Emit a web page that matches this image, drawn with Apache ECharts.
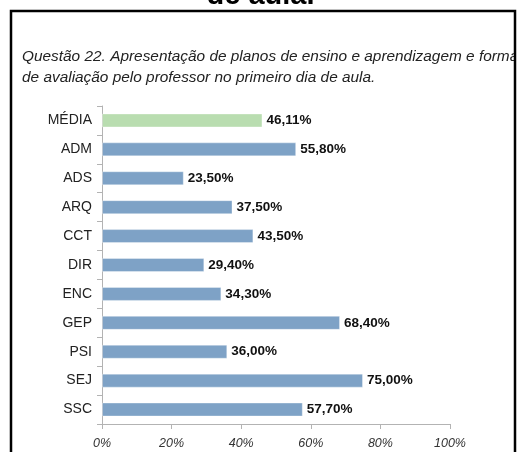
<!DOCTYPE html>
<html>
<head>
<meta charset="utf-8">
<script src="https://cdn.jsdelivr.net/npm/echarts@6/dist/echarts.min.js"></script>
<style>
  html, body { margin: 0; padding: 0; background: #fff; }
  #chart { width: 521px; height: 452px; }
</style>
</head>
<body>
<div id="chart"></div>
<script>
// dados do gráfico
var categorias = ['MÉDIA', 'ADM', 'ADS', 'ARQ', 'CCT', 'DIR', 'ENC', 'GEP', 'PSI', 'SEJ', 'SSC'];
var valores = [46.11, 55.80, 23.50, 37.50, 43.50, 29.40, 34.30, 68.40, 36.00, 75.00, 57.70];
var ticksX = [0, 20, 40, 60, 80, 100];

var corAzul = '#7ea2c6';
var corVerde = '#b9ddb0';
var fonte = '"Liberation Sans", Arial, sans-serif';

var chart = echarts.init(document.getElementById('chart'));

var dadosBarras = valores.map(function (v, i) {
    return {
        value: v,
        itemStyle: { color: i === 0 ? corVerde : corAzul }
    };
});

var option = {
    backgroundColor: '#fff',
    animation: false,
    graphic: [
        {
            type: 'text',
            left: 'center',
            top: -19,
            style: {
                text: 'de aula.',
                font: 'bold 29px ' + fonte,
                fill: '#000'
            }
        },
        {
            type: 'text',
            x: 22,
            y: 49,
            style: {
                text: 'Questão 22. Apresentação de planos de ensino e aprendizagem e forma',
                font: 'italic 15.4px ' + fonte,
                fill: '#222'
            }
        },
        {
            type: 'text',
            x: 22,
            y: 70,
            style: {
                text: 'de avaliação pelo professor no primeiro dia de aula.',
                font: 'italic 15.4px ' + fonte,
                fill: '#222'
            }
        },
        // corta o texto que passa da moldura
        {
            type: 'rect',
            shape: { x: 515, y: 11, width: 10, height: 460 },
            style: { fill: '#fff' }
        },
        {
            type: 'rect',
            shape: { x: 11, y: 11, width: 504, height: 460 },
            style: { fill: 'none', stroke: '#000', lineWidth: 2.5 }
        }
    ],
    grid: {
        left: 102,
        right: 71,
        top: 106,
        bottom: 28
    },
    xAxis: {
        type: 'value',
        min: 0,
        max: 100,
        interval: 20,
        axisLine: { show: true, lineStyle: { color: '#b3b3b3' } },
        axisTick: { show: true, length: 5, lineStyle: { color: '#b3b3b3' } },
        splitLine: { show: false },
        axisLabel: {
            margin: 13,
            color: '#333',
            fontStyle: 'italic',
            fontSize: 12.5,
            fontFamily: fonte,
            formatter: function (v) {
                return ticksX.indexOf(v) >= 0 ? v + '%' : '';
            }
        }
    },
    yAxis: {
        type: 'category',
        data: categorias,
        inverse: true,
        axisLine: { show: true, lineStyle: { color: '#b3b3b3' } },
        axisTick: { show: true, length: 5, lineStyle: { color: '#b3b3b3' } },
        axisLabel: {
            margin: 10,
            color: '#222',
            fontSize: 14,
            fontFamily: fonte
        }
    },
    series: [
        {
            type: 'bar',
            data: dadosBarras,
            barWidth: 14,
            itemStyle: { borderColor: 'rgba(255,255,255,0.35)', borderWidth: 1 },
            label: {
                show: true,
                position: 'right',
                distance: 4,
                color: '#111',
                fontWeight: 'bold',
                fontSize: 13.5,
                fontFamily: fonte,
                formatter: function (p) {
                    return p.value.toFixed(2).replace('.', ',') + '%';
                }
            }
        }
    ]
};

chart.setOption(option);
</script>
</body>
</html>
